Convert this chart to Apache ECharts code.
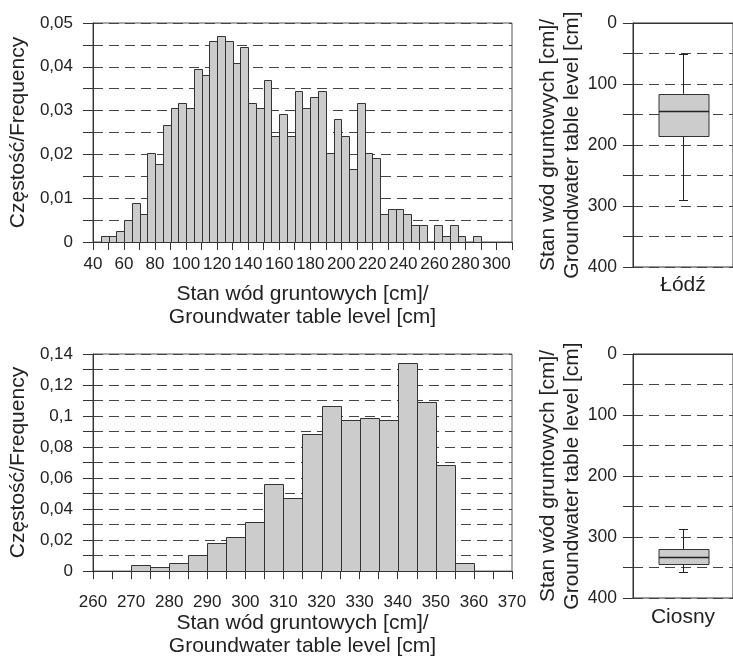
<!DOCTYPE html>
<html><head><meta charset="utf-8">
<script src="https://cdn.jsdelivr.net/npm/echarts/dist/echarts.min.js"></script>
<style>html,body{margin:0;padding:0;background:#fff}#c{width:733px;height:659px}</style>
</head><body><div id="c"></div>
<script>
// ---- data ----
const binWidth = 5;
const lodzBinStarts = [45,50,55,60,65,70,75,80,85,90,95,100,105,110,115,120,125,130,135,140,145,150,155,160,165,170,175,180,185,190,195,200,205,210,215,220,225,230,235,240,245,250,255,260,265,270,275,280,285];
const lodzFreq = [0.0013,0.0013,0.0026,0.0051,0.0089,0.0064,0.0203,0.0179,0.0268,0.0306,0.0318,0.0306,0.0395,0.0382,0.0458,0.0471,0.0458,0.0409,0.0446,0.0318,0.0306,0.0370,0.0243,0.0293,0.0243,0.0344,0.0306,0.0331,0.0344,0.0203,0.0281,0.0243,0.0166,0.0318,0.0203,0.0191,0.0064,0.0076,0.0076,0.0064,0.0038,0.0038,0,0.0038,0.0013,0.0038,0.0013,0,0.0013];
const ciosnyBinStarts = [270,275,280,285,290,295,300,305,310,315,320,325,330,335,340,345,350,355];
const ciosnyFreq = [0.0038,0.0026,0.0051,0.0102,0.0179,0.0218,0.0319,0.0562,0.0472,0.0883,0.1062,0.0972,0.0985,0.0972,0.1345,0.1089,0.0681,0.0051];
const boxCategoriesTop = ['Łódź'];
const boxCategoriesBottom = ['Ciosny'];
// min, Q1, median, Q3, max
const lodzBox = [50, 116, 144, 185, 290];
const ciosnyBox = [287, 320, 332, 344, 358];
const xName = 'Stan wód gruntowych [cm]/\nGroundwater table level [cm]';
const yHistName = 'Częstość/Frequency';
const yBoxName = 'Stan wód gruntowych [cm]/\nGroundwater table level [cm]';

// ---- chart ----
const FONT = '"Liberation Sans", Arial, sans-serif';
const TXT = '#222';
const AX = '#333';
const dash = [10, 6];

function comma(v) {
  if (Math.abs(v) < 1e-9) return '0';
  return String(+v.toFixed(3)).replace('.', ',');
}
function histItem(params, api) {
  const y = api.value(2);
  if (!(y > 0)) return;
  const p0 = api.coord([api.value(0), y]);
  const p1 = api.coord([api.value(1), 0]);
  return {
    type: 'rect',
    shape: { x: Math.round(p0[0]) + 0.5, y: Math.round(p0[1]) + 0.5, width: Math.round(p1[0]) - Math.round(p0[0]), height: Math.round(p1[1]) - Math.round(p0[1]) },
    style: { fill: '#cccccc', stroke: '#333', lineWidth: 1 }
  };
}
function boxItem(params, api) {
  const c = api.value(0);
  const bw = api.size([1, 0])[0] * 0.5;
  const cap = 9;
  const pMin = api.coord([c, api.value(1)]);
  const pQ1 = api.coord([c, api.value(2)]);
  const pMed = api.coord([c, api.value(3)]);
  const pQ3 = api.coord([c, api.value(4)]);
  const pMax = api.coord([c, api.value(5)]);
  const cx = Math.round(pQ1[0]) + 0.5;
  const ls = { stroke: '#222', lineWidth: 1 };
  return {
    type: 'group',
    children: [
      { type: 'line', shape: { x1: cx, y1: pMin[1], x2: cx, y2: pQ1[1] }, style: ls },
      { type: 'line', shape: { x1: cx, y1: pQ3[1], x2: cx, y2: pMax[1] }, style: ls },
      { type: 'line', shape: { x1: cx - cap / 2, y1: Math.round(pMin[1]) + 0.5, x2: cx + cap / 2, y2: Math.round(pMin[1]) + 0.5 }, style: ls },
      { type: 'line', shape: { x1: cx - cap / 2, y1: Math.round(pMax[1]) + 0.5, x2: cx + cap / 2, y2: Math.round(pMax[1]) + 0.5 }, style: ls },
      { type: 'rect', shape: { x: Math.round(cx - bw / 2), y: Math.round(pQ1[1]) + 0.5, width: Math.round(bw), height: Math.round(pQ3[1] - pQ1[1]) }, style: { fill: '#cccccc', stroke: '#333', lineWidth: 1 } },
      { type: 'line', shape: { x1: Math.round(cx - bw / 2), y1: Math.round(pMed[1]) + 0.5, x2: Math.round(cx - bw / 2) + Math.round(bw), y2: Math.round(pMed[1]) + 0.5 }, style: { stroke: '#222', lineWidth: 1.5 } }
    ]
  };
}

function valX(gi, min, max, interval, labelEvery, margin) {
  return {
    type: 'value', gridIndex: gi, min: min, max: max, interval: interval,
    name: xName, nameLocation: 'middle', nameGap: 0,
    nameTextStyle: { fontFamily: FONT, fontSize: 21, color: TXT, lineHeight: 23 },
    axisLine: { show: true, lineStyle: { color: AX, width: 1 } },
    axisTick: { show: true, length: 8, lineStyle: { color: AX } },
    axisLabel: { margin: margin, fontFamily: FONT, fontSize: 17, color: TXT, showMinLabel: true, showMaxLabel: true,
      formatter: v => (Math.round(v - min) % labelEvery === 0 ? String(v) : '') },
    splitLine: { show: false }
  };
}
function valY(gi, max, interval, labelEveryHundredths) {
  return {
    type: 'value', gridIndex: gi, min: 0, max: max, interval: interval,
    name: yHistName, nameLocation: 'middle', nameGap: 56,
    nameTextStyle: { fontFamily: FONT, fontSize: 21, color: TXT },
    axisLine: { show: true, lineStyle: { color: AX, width: 1 } },
    axisTick: { show: true, length: 10, lineStyle: { color: AX } },
    axisLabel: { margin: 20, fontFamily: FONT, fontSize: 17, color: TXT, showMinLabel: true, showMaxLabel: true,
      formatter: v => (Math.round(v * 1000) % labelEveryHundredths === 0 ? comma(v) : '') },
    splitLine: { show: true, lineStyle: { color: '#444', width: 1.2, type: dash } }
  };
}
function boxX(gi, cats, margin) {
  return {
    type: 'category', gridIndex: gi, data: cats,
    axisLine: { show: true, lineStyle: { color: AX, width: 1 } },
    axisTick: { show: false },
    axisLabel: { margin: margin, fontFamily: FONT, fontSize: 21, color: TXT },
    splitLine: { show: false }
  };
}
function boxY(gi) {
  return {
    type: 'value', gridIndex: gi, min: 0, max: 400, interval: 50, inverse: true,
    name: yBoxName, nameLocation: 'middle', nameGap: 49,
    nameTextStyle: { fontFamily: FONT, fontSize: 21, color: TXT, lineHeight: 24 },
    axisLine: { show: true, lineStyle: { color: AX, width: 1 } },
    axisTick: { show: true, length: 10, lineStyle: { color: AX } },
    axisLabel: { margin: 16, fontFamily: FONT, fontSize: 17.5, color: TXT, showMinLabel: true, showMaxLabel: true,
      formatter: v => (v % 100 === 0 ? String(v) : '') },
    splitLine: { show: true, lineStyle: { color: '#444', width: 1.2, type: dash } }
  };
}

const xTop = valX(0, 40, 310, 10, 20, 14); xTop.nameGap = 41;
const xBot = valX(1, 260, 370, 5, 10, 23); xBot.nameGap = 40;

const option = {
  animation: false,
  backgroundColor: '#fff',
  textStyle: { fontFamily: FONT },
  grid: [
    { left: 92, top: 23, width: 420, height: 219, show: true, borderColor: '#555', borderWidth: 1, backgroundColor: 'transparent' },
    { left: 92, top: 354, width: 420, height: 219, show: true, borderColor: '#555', borderWidth: 1, backgroundColor: 'transparent' },
    { left: 633, top: 23, width: 105, height: 244, show: true, borderColor: '#333', borderWidth: 1, backgroundColor: 'transparent' },
    { left: 633, top: 354, width: 105, height: 244, show: true, borderColor: '#333', borderWidth: 1, backgroundColor: 'transparent' }
  ],
  xAxis: [xTop, xBot, boxX(2, boxCategoriesTop, 8), boxX(3, boxCategoriesBottom, 9)],
  yAxis: [valY(0, 0.05, 0.005, 10), valY(1, 0.14, 0.01, 20), boxY(2), boxY(3)],
  series: [
    { type: 'custom', xAxisIndex: 0, yAxisIndex: 0, renderItem: histItem, encode: { x: [0, 1], y: 2 },
      data: lodzBinStarts.map((s, i) => [s, s + binWidth, lodzFreq[i]]) },
    { type: 'custom', xAxisIndex: 1, yAxisIndex: 1, renderItem: histItem, encode: { x: [0, 1], y: 2 },
      data: ciosnyBinStarts.map((s, i) => [s, s + binWidth, ciosnyFreq[i]]) },
    { type: 'custom', xAxisIndex: 2, yAxisIndex: 2, renderItem: boxItem, encode: { x: 0, y: [1, 2, 3, 4, 5] },
      data: [[0].concat(lodzBox)] },
    { type: 'custom', xAxisIndex: 3, yAxisIndex: 3, renderItem: boxItem, encode: { x: 0, y: [1, 2, 3, 4, 5] },
      data: [[0].concat(ciosnyBox)] }
  ]
};
const chart = echarts.init(document.getElementById('c'), null, { renderer: 'canvas' });
chart.setOption(option);
</script>
</body></html>
